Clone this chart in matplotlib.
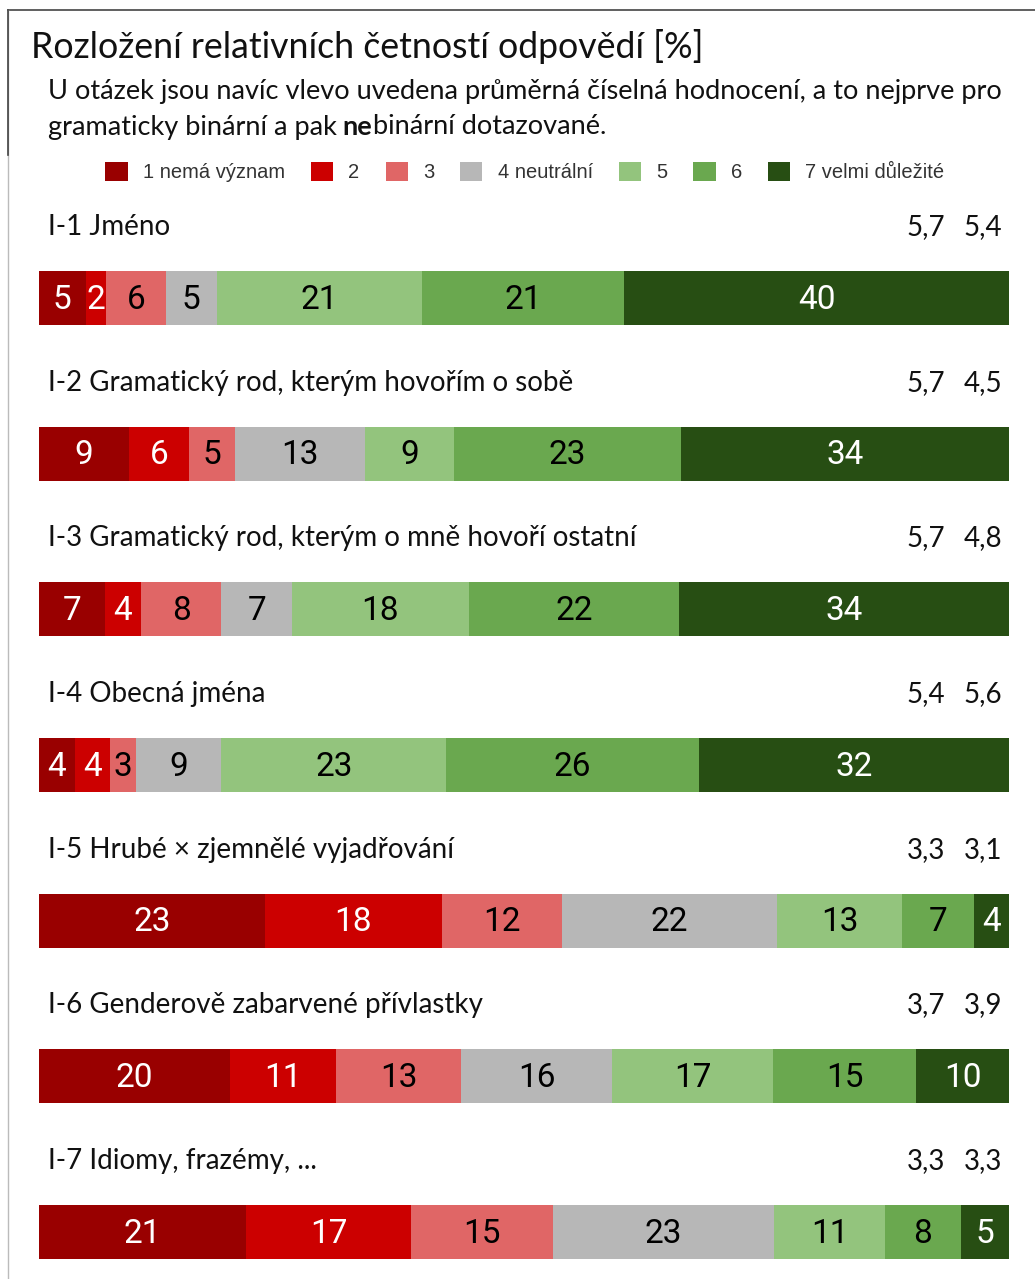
import matplotlib
matplotlib.use("Agg")
import matplotlib.pyplot as plt
from matplotlib.patches import Patch
from matplotlib.lines import Line2D
import numpy as np

# ---------------- data ----------------
questions = [
    "I-1 Jméno",
    "I-2 Gramatický rod, kterým hovořím o sobě",
    "I-3 Gramatický rod, kterým o mně hovoří ostatní",
    "I-4 Obecná jména",
    "I-5 Hrubé × zjemnělé vyjadřování",
    "I-6 Genderově zabarvené přívlastky",
    "I-7 Idiomy, frazémy, ...",
]
mean_binary = ["5,7", "5,7", "5,7", "5,4", "3,3", "3,7", "3,3"]
mean_nonbinary = ["5,4", "4,5", "4,8", "5,6", "3,1", "3,9", "3,3"]
categories = ["1 nemá význam", "2", "3", "4 neutrální", "5", "6", "7 velmi důležité"]
shares = [
    [4.8, 2.1, 6.2, 5.2, 21.2, 20.8, 39.7],
    [9.3, 6.2, 4.7, 13.4, 9.2, 23.4, 33.8],
    [6.8, 3.7, 8.3, 7.3, 18.2, 21.7, 34.0],
    [3.7, 3.6, 2.7, 8.8, 23.2, 26.0, 32.0],
    [23.3, 18.2, 12.4, 22.2, 12.9, 7.4, 3.6],
    [19.7, 10.9, 12.9, 15.6, 16.6, 14.7, 9.6],
    [21.3, 17.1, 14.6, 22.8, 11.4, 7.8, 5.0],
]
colors = ["#990000", "#cc0000", "#e06666", "#b7b7b7", "#93c47d", "#6aa84f", "#274e13"]
text_colors = ["white", "white", "black", "black", "black", "black", "white"]

TXT = ["Lato", "DejaVu Sans"]
NUM = ["Roboto", "DejaVu Sans"]

W, H = 1035, 1279
fig = plt.figure(figsize=(W / 100, H / 100), dpi=100)
fig.patch.set_facecolor("white")

def fy(px):
    return 1 - px / H

def fx(px):
    return px / W

# frame lines
fig.add_artist(Line2D([fx(8), 1], [fy(10), fy(10)], color="#444444", lw=1.2))
fig.add_artist(Line2D([fx(8), fx(8)], [fy(10), 0], color="#bbbbbb", lw=1.0))
fig.add_artist(Line2D([fx(8), fx(8)], [fy(10), fy(155)], color="#444444", lw=1.2))

# title
fig.text(fx(31), fy(46), "Rozložení relativních četností odpovědí [%]",
         family=TXT, fontsize=25.7, va="center", ha="left", color="#111111")

# subtitle
SUB = 19.5
fig.text(fx(48), fy(92), "U otázek jsou navíc vlevo uvedena průměrná číselná hodnocení, a to nejprve pro",
         family=TXT, fontsize=SUB, va="center", ha="left", color="#111111")
renderer = fig.canvas.get_renderer()
x0 = 48
pieces = [("gramaticky binární a pak", "normal", 6), ("ne", "bold", 0), ("binární dotazované.", "normal", 0)]
for s, w, gap in pieces:
    t = fig.text(fx(x0), fy(127), s, family=TXT, fontsize=SUB, va="center", ha="left",
                 color="#111111", fontweight=w)
    bb = t.get_window_extent(renderer=renderer)
    x0 = x0 + bb.width + gap

# legend
handles = [Patch(facecolor=c, edgecolor="none") for c in colors]
leg = fig.legend(handles, categories, loc="center", bbox_to_anchor=(fx(525), fy(172)),
                 ncol=7, frameon=False, prop={"family": "Liberation Sans", "size": 14.5},
                 handlelength=1.1, handleheight=1.1, handletextpad=0.75, columnspacing=1.3)
for t in leg.get_texts():
    t.set_color("#333333")

# bars
ax = fig.add_axes([fx(39), 0, fx(970), 1])
row0 = 298
step = 155.67
ax.set_xlim(0, 100)
ax.set_ylim((H - row0) / step, -row0 / step)
ax.axis("off")

LAB = 20
bar_h = 54 / step
for i, row in enumerate(shares):
    left = 0.0
    for j, v in enumerate(row):
        ax.barh(i, v, left=left, height=bar_h, color=colors[j], edgecolor="none")
        ax.text(left + v / 2, i + 0.01, f"{round(v):d}", ha="center", va="center",
                family=NUM, fontsize=24, color=text_colors[j])
        left += v
    ly = i - 71 / step
    ax.text((48 - 39) / 9.7, ly, questions[i], ha="left", va="center",
            family=TXT, fontsize=LAB, color="#111111")
    ax.text((945 - 39) / 9.7, ly, mean_binary[i], ha="right", va="center",
            family=TXT, fontsize=LAB, color="#111111")
    ax.text((1002 - 39) / 9.7, ly, mean_nonbinary[i], ha="right", va="center",
            family=TXT, fontsize=LAB, color="#111111")

fig.savefig("out.png", dpi=100, facecolor="white")
